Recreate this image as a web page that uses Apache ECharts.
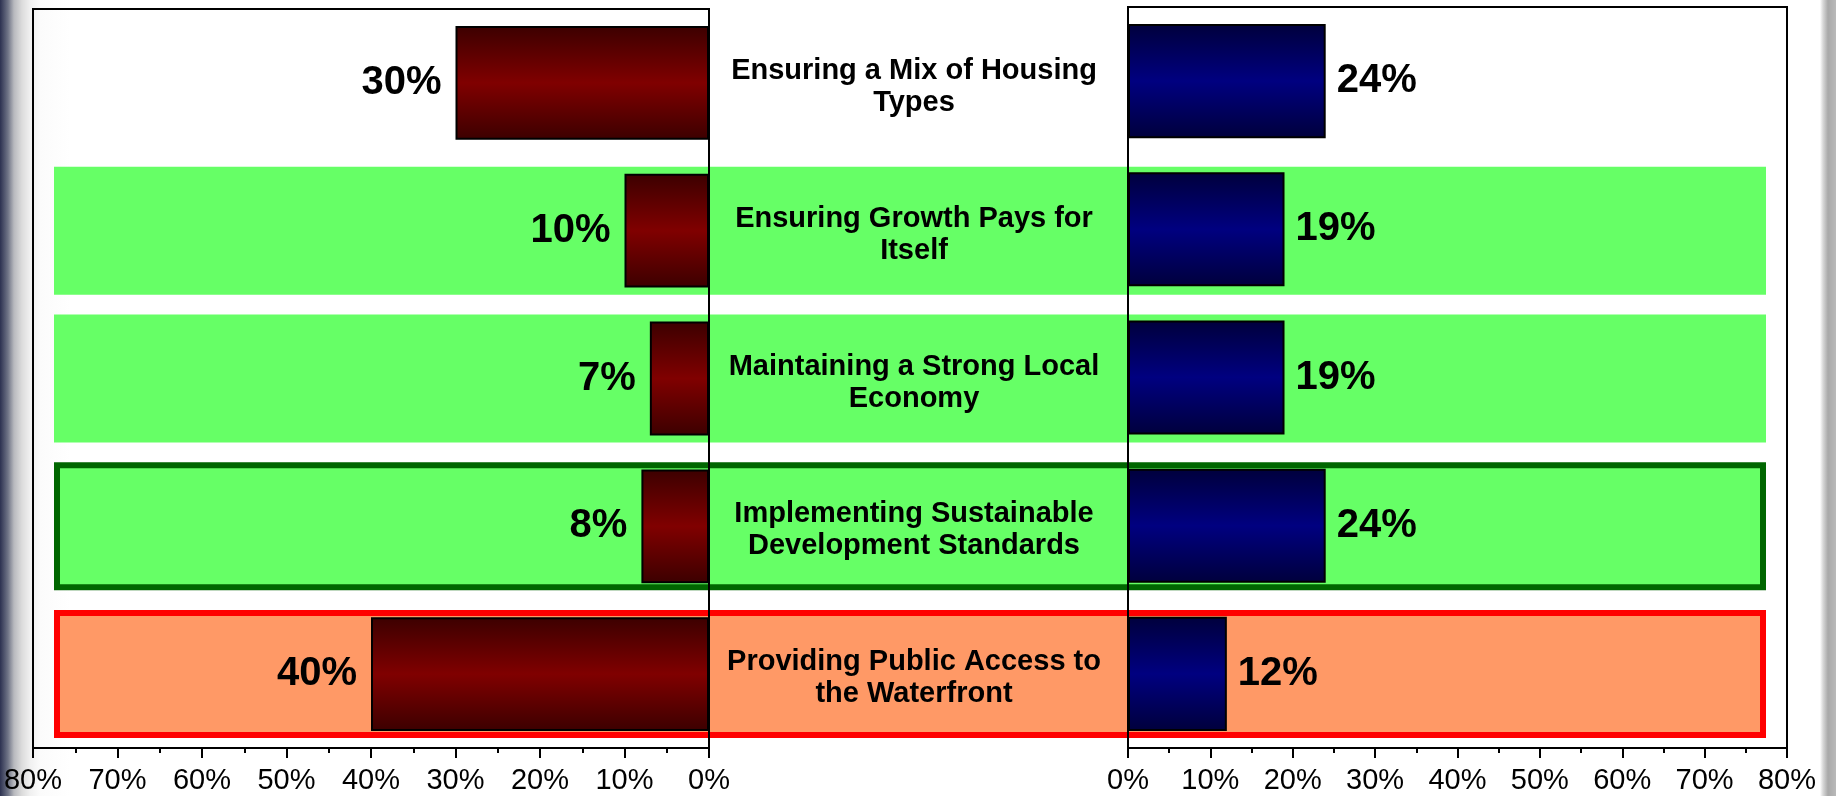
<!DOCTYPE html>
<html>
<head>
<meta charset="utf-8">
<script src="https://cdn.jsdelivr.net/npm/echarts@6/dist/echarts.min.js"></script>
<style>
  html, body { margin: 0; padding: 0; }
  #chart {
    width: 1836px;
    height: 796px;
    /* slide background: dark strip on the left, grey strip on the right */
    background: linear-gradient(to right, #2c3150 0px, #6f7486 8px, #b8b9be 14px, #dcdcdc 22px, #f0f0f0 30px, #fbfbfb 40px, #ffffff 70px, #ffffff 1820px, #d8d8d8 1823px, #a9a9a9 1828px, #b9b9b9 1836px);
  }
</style>
</head>
<body>
<div id="chart"></div>
<script>
// categories, top to bottom
const categories = [
  'Ensuring a Mix of Housing\nTypes',
  'Ensuring Growth Pays for\nItself',
  'Maintaining a Strong Local\nEconomy',
  'Implementing Sustainable\nDevelopment Standards',
  'Providing Public Access to\nthe Waterfront'
]
// left (red) and right (blue) shares, in %
const leftValues = [30, 10, 7, 8, 40]
const rightValues = [24, 19, 19, 24, 12]
// axis ticks
const axisMax = 80
const axisStep = 10
// highlight band behind each row
const highlight = ['none', 'green', 'green', 'greenBoxed', 'orangeBoxed']

const bandStyles = {
  none: { color: 'rgba(0,0,0,0)', borderWidth: 0 },
  green: { color: '#66FF66', borderWidth: 0 },
  greenBoxed: { color: '#66FF66', borderColor: '#006600', borderWidth: 6 },
  orangeBoxed: { color: '#FF9966', borderColor: '#FF0000', borderWidth: 6 }
}

const font = '"Liberation Sans", Arial, Helvetica, sans-serif'

const barGradient = (edge, mid) => new echarts.graphic.LinearGradient(0, 0, 0, 1, [
  { offset: 0, color: edge },
  { offset: 0.5, color: mid },
  { offset: 1, color: edge }
])

const valueAxis = (gridIndex, inverse) => ({
  type: 'value',
  gridIndex: gridIndex,
  inverse: inverse,
  min: 0,
  max: axisMax,
  interval: axisStep,
  axisLine: { show: true, lineStyle: { color: '#000', width: 2 } },
  axisTick: { show: true, length: 10, lineStyle: { color: '#000', width: 2 } },
  minorTick: { show: true, splitNumber: 2, length: 5, lineStyle: { color: '#000', width: 2 } },
  splitLine: { show: false },
  axisLabel: {
    formatter: '{value}%',
    color: '#000',
    fontFamily: font,
    fontSize: 29,
    margin: 18
  }
})

const catAxis = (gridIndex) => ({
  type: 'category',
  gridIndex: gridIndex,
  data: categories,
  inverse: true,
  show: false
})

const valueLabel = (position, distance) => ({
  show: true,
  position: position,
  distance: distance,
  formatter: '{c}%',
  color: '#000',
  fontFamily: font,
  fontWeight: 'bold',
  fontSize: 40
})

const chart = echarts.init(document.getElementById('chart'))

const option = {
  backgroundColor: 'transparent',
  animation: false,
  grid: [
    { left: 33, right: 1127, top: 9, bottom: 48, show: true, borderColor: '#000', borderWidth: 2 },
    { left: 1128, right: 49, top: 7, bottom: 48, show: true, borderColor: '#000', borderWidth: 2 },
    { left: 54, right: 70, top: 9, bottom: 48 }
  ],
  xAxis: [
    valueAxis(0, true),
    valueAxis(1, false),
    { type: 'value', gridIndex: 2, min: 0, max: 1, show: false }
  ],
  yAxis: [catAxis(0), catAxis(1), catAxis(2)],
  series: [
    {
      // highlight bands + row titles
      type: 'bar',
      xAxisIndex: 2,
      yAxisIndex: 2,
      z: -1,
      barWidth: 128,
      silent: true,
      data: highlight.map((h) => ({ value: 1, itemStyle: bandStyles[h] })),
      label: {
        show: true,
        position: 'inside',
        offset: [4, 4],
        formatter: (p) => p.name,
        color: '#000',
        fontFamily: font,
        fontWeight: 'bold',
        fontSize: 29,
        lineHeight: 32,
        align: 'center'
      }
    },
    {
      type: 'bar',
      xAxisIndex: 0,
      yAxisIndex: 0,
      barWidth: '77%',
      data: leftValues,
      itemStyle: {
        color: barGradient('#3c0000', '#800000'),
        borderColor: '#000',
        borderWidth: 2
      },
      label: valueLabel('left', 14)
    },
    {
      type: 'bar',
      xAxisIndex: 1,
      yAxisIndex: 1,
      barWidth: '77%',
      data: rightValues,
      itemStyle: {
        color: barGradient('#00003c', '#000080'),
        borderColor: '#000',
        borderWidth: 2
      },
      label: valueLabel('right', 11)
    }
  ]
}

chart.setOption(option)
</script>
</body>
</html>
